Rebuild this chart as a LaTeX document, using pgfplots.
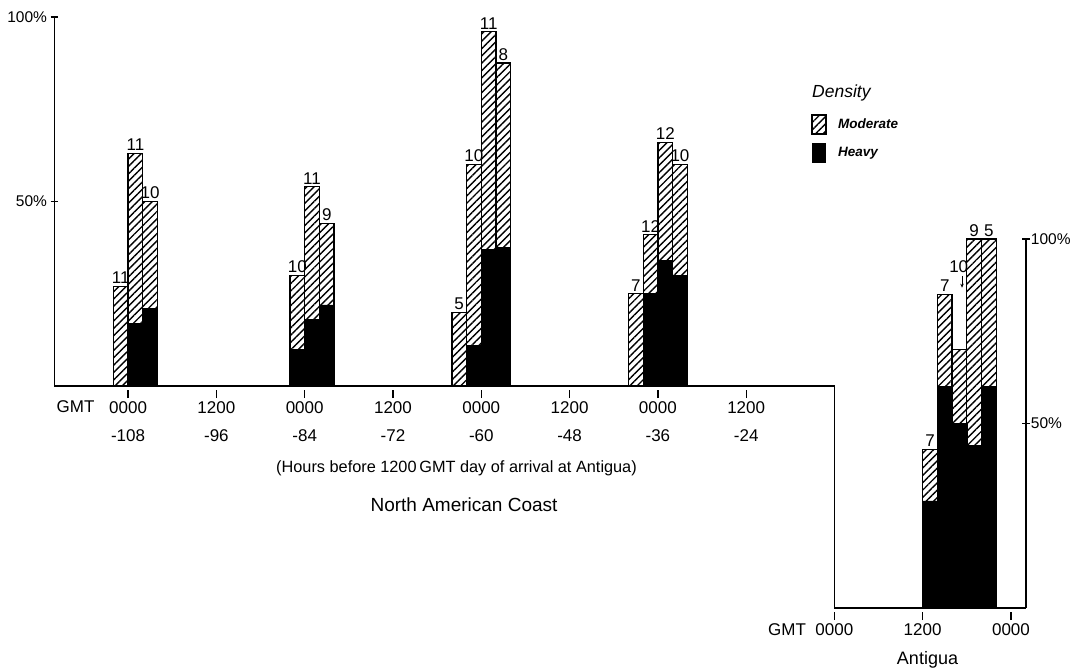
\documentclass[border=0pt]{standalone}
\usepackage{fontspec}
\setmainfont{Liberation Sans}
\usepackage{pgfplots}
\pgfplotsset{compat=1.18}
\usetikzlibrary{patterns.meta,arrows.meta}

\tikzset{hatch/.style={pattern={Lines[angle=45,distance=5.2pt,line width=1.4pt]}}}
\pgfplotsset{
  frame/.style={
    scale only axis, height=369pt, ymin=0, ymax=100, clip=false,
    tick align=inside, major tick length=8pt,
    tick style={line width=1.4pt, black},
    xtick style={yshift=-8pt},
    xticklabel style={yshift=-8pt, font=\fontsize{17}{28}\selectfont, align=center},
    yticklabel style={font=\fontsize{15.5}{18}\selectfont},
  },
  noarrows/.style={
    every outer x axis line/.append style={-, line width=1.6pt},
    every outer y axis line/.append style={-, line width=1.6pt},
  },
  moderate/.style={ybar, bar width=2, bar shift=0pt, draw=black, line width=1.3pt, hatch,
    point meta=explicit symbolic, nodes near coords,
    nodes near coords style={font=\fontsize{17}{18}\selectfont, anchor=south, inner sep=2pt}},
  heavy/.style={ybar, bar width=2, bar shift=0pt, draw=black, line width=0.6pt, fill=black},
}

\begin{document}
\begin{tikzpicture}
\useasboundingbox (0,0) rectangle (1070pt,670pt);

% North American Coast
\begin{axis}[frame, at={(54.5pt,284pt)}, anchor=south west, width=780pt,
  xmin=-118, xmax=-12, axis x line=bottom, axis y line=left, noarrows,
  xtick={-108,-96,-84,-72,-60,-48,-36,-24},
  xticklabels={{0000\\-108},{1200\\-96},{0000\\-84},{1200\\-72},{0000\\-60},{1200\\-48},{0000\\-36},{1200\\-24}},
  ytick={50,100}, yticklabels={50\%,100\%}]
\addplot[moderate] coordinates {
  (-109,27)[11] (-107,63)[11] (-105,50)[10]
  (-85,30)[10] (-83,54)[11] (-81,44)[9]
  (-63,20)[5] (-61,60)[10] (-59,96)[11] (-57,87.5)[8]
  (-39,25)[7] (-37,41)[12] (-35,66)[12] (-33,60)[10]};
\addplot[heavy] coordinates {
  (-107,17) (-105,21)
  (-85,10) (-83,18) (-81,22)
  (-61,11) (-59,37) (-57,37.5)
  (-37,25) (-35,34) (-33,30)};
\end{axis}

% Antigua
\begin{axis}[frame, at={(834.3pt,62pt)}, anchor=south west, width=191.4pt,
  xmin=-12, xmax=14, axis x line=bottom, axis y line=right, noarrows,
  xtick={-12,0,12}, xticklabels={0000,1200,0000},
  ytick={50,100}, yticklabels={50\%,100\%},
  yticklabel style={inner sep=1pt}]
\draw[line width=1.6pt] (axis cs:-12,0) -- (axis cs:-12,60.2);
\addplot[moderate] coordinates {
  (1,43)[7] (3,85)[7] (5,70)[] (7,100)[9] (9,100)[5]};
\addplot[heavy] coordinates {
  (1,29) (3,60) (5,50) (7,44) (9,60)};
\node[font=\fontsize{17}{18}\selectfont] at (axis cs:4.9,92.5) {10};
\draw[line width=0.9pt,-{Stealth[length=4pt,width=3.5pt]}] (axis cs:5.35,90) -- (axis cs:5.35,86.8);
\end{axis}

% texts
\node[font=\fontsize{17}{18}\selectfont] at (75.5pt,263.3pt) {GMT};
\node[font=\fontsize{17}{18}\selectfont] at (787pt,40pt) {GMT};
\node[font=\fontsize{16.3}{18}\selectfont] at (456.5pt,202pt) {(Hours before 1200\,GMT day of arrival at Antigua)};
\node[font=\fontsize{19}{22}\selectfont] at (464pt,165pt) {North American Coast};
\node[font=\fontsize{18}{20}\selectfont] at (927.5pt,10pt) {Antigua};

% legend
\node[font=\itshape\fontsize{17.5}{19}\selectfont, anchor=west, inner sep=0pt] at (812pt,577pt) {Density};
\draw[line width=1.2pt, hatch] (812pt,536pt) rectangle (826pt,555pt);
\node[font=\bfseries\itshape\fontsize{13.5}{15}\selectfont, anchor=west, inner sep=0pt] at (838pt,546pt) {Moderate};
\fill[black] (812pt,507pt) rectangle (826pt,527pt);
\node[font=\bfseries\itshape\fontsize{13.5}{15}\selectfont, anchor=west, inner sep=0pt] at (838pt,517pt) {Heavy};
\end{tikzpicture}
\end{document}
